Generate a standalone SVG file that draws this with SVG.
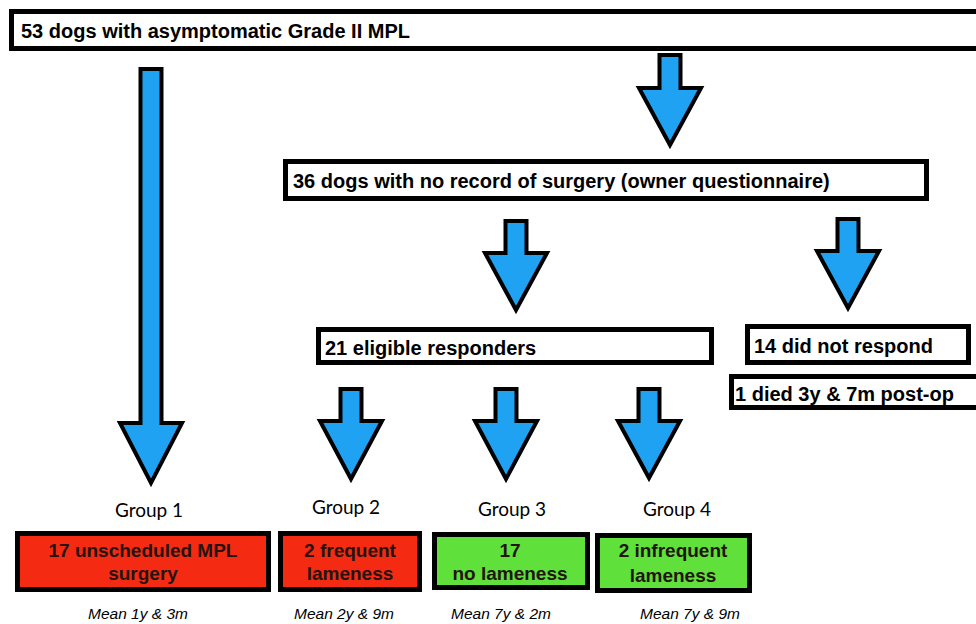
<svg xmlns="http://www.w3.org/2000/svg" width="976" height="624" viewBox="0 0 976 624">
<style>
  .box { fill: #ffffff; stroke: #000000; stroke-width: 5; }
  .red { fill: #f42b12; stroke: #000000; stroke-width: 5; }
  .green { fill: #5fe03a; stroke: #000000; stroke-width: 5; }
  .arrow { fill: #1fa2f2; stroke: #000000; stroke-width: 4; stroke-linejoin: miter; }
  .bt { font-family: "Liberation Sans", Arial, sans-serif; font-weight: bold; font-size: 20px; fill: #000000; }
  .ct { font-family: "Liberation Sans", Arial, sans-serif; font-weight: bold; font-size: 19px; fill: #231410; text-anchor: middle; }
  .gl { font-family: Lato, "Open Sans", sans-serif; font-size: 19px; fill: #000000; text-anchor: middle; }
  .ml { font-family: "Liberation Sans", Arial, sans-serif; font-style: italic; font-size: 15.5px; fill: #000000; text-anchor: middle; }
</style>
<rect width="976" height="624" fill="#ffffff"/>
<g id="connectors">
  <path class="arrow" d="M140.5,69 H161.5 V423 H182 L151,483 L120,423 H140.5 Z"/>
  <path class="arrow" d="M659.5,55 H680.5 V88 H701 L670,145 L639,88 H659.5 Z"/>
  <path class="arrow" d="M505.5,221 H526.5 V253 H547 L516,310 L485,253 H505.5 Z"/>
  <path class="arrow" d="M837.5,219 H858.5 V251 H879 L848,308 L817,251 H837.5 Z"/>
  <path class="arrow" d="M340.5,389 H361.5 V421 H382 L351,479 L320,421 H340.5 Z"/>
  <path class="arrow" d="M495.5,389 H516.5 V421 H537 L506,479 L475,421 H495.5 Z"/>
  <path class="arrow" d="M638.5,389 H659.5 V421 H680 L649,478 L618,421 H638.5 Z"/>
</g>
<g id="n-top">
  <rect class="box" x="11.5" y="11.5" width="1000" height="37"/>
  <text class="bt" x="21" y="38" font-size="21">53 dogs with asymptomatic Grade II MPL</text>
</g>
<g id="n-36">
  <rect class="box" x="285.5" y="161.5" width="641" height="37"/>
  <text class="bt" x="293" y="188" font-size="20.5">36 dogs with no record of surgery (owner questionnaire)</text>
</g>
<g id="n-21">
  <rect class="box" x="318.5" y="329.5" width="393" height="33"/>
  <text class="bt" x="325" y="355" font-size="19.5">21 eligible responders</text>
</g>
<g id="n-14">
  <rect class="box" x="747.5" y="326.5" width="221" height="36"/>
  <text class="bt" x="754" y="353">14 did not respond</text>
</g>
<g id="n-died">
  <rect class="box" x="731.5" y="376.5" width="300" height="31"/>
  <text class="bt" x="735" y="401">1 died 3y &amp; 7m post-op</text>
</g>
<g id="g1">
  <text class="gl" x="149" y="517">Group 1</text>
  <rect class="red" x="17.5" y="533.5" width="251" height="56"/>
  <text class="ct" x="143" y="557">17 unscheduled MPL</text>
  <text class="ct" x="143" y="580">surgery</text>
  <text class="ml" x="138" y="619">Mean 1y &amp; 3m</text>
</g>
<g id="g2">
  <text class="gl" x="346" y="514">Group 2</text>
  <rect class="red" x="280.5" y="533.5" width="139" height="56"/>
  <text class="ct" x="350" y="557">2 frequent</text>
  <text class="ct" x="350" y="580">lameness</text>
  <text class="ml" x="344" y="619">Mean 2y &amp; 9m</text>
</g>
<g id="g3">
  <text class="gl" x="512" y="516">Group 3</text>
  <rect class="green" x="434.5" y="534.5" width="153" height="53"/>
  <text class="ct" x="510" y="557">17</text>
  <text class="ct" x="510" y="580">no lameness</text>
  <text class="ml" x="501" y="619">Mean 7y &amp; 2m</text>
</g>
<g id="g4">
  <text class="gl" x="677" y="516">Group 4</text>
  <rect class="green" x="597.5" y="535.5" width="152" height="55"/>
  <text class="ct" x="673" y="557">2 infrequent</text>
  <text class="ct" x="673" y="582">lameness</text>
  <text class="ml" x="690" y="619">Mean 7y &amp; 9m</text>
</g>
</svg>
